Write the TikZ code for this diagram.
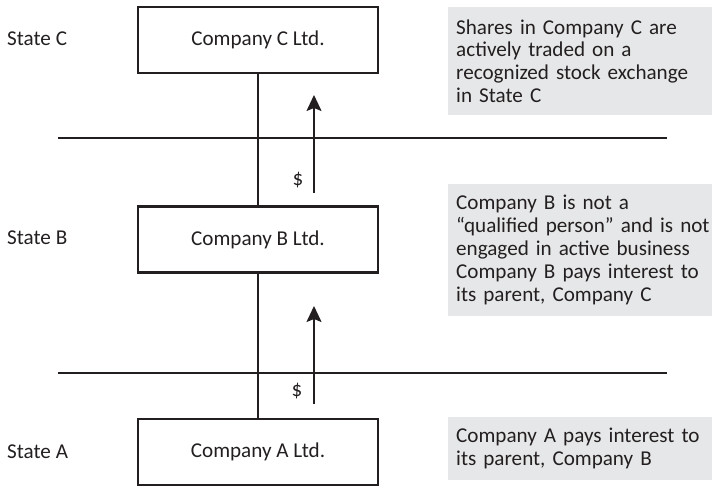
\documentclass[tikz,border=0pt]{standalone}
\usepackage{xcolor}
\usepackage{fontspec}
\setmainfont{Carlito}
\usetikzlibrary{shapes,arrows,positioning,calc,arrows.meta}
\definecolor{notegray}{RGB}{230,231,232}
\definecolor{inkgray}{RGB}{35,31,32}

\begin{document}
\begin{tikzpicture}[x=1bp,y=-1bp,
    every node/.style={text=inkgray, font=\fontsize{21.2}{23}\selectfont},
    company/.style={draw=inkgray, line width=2.5bp, minimum width=240bp, minimum height=66bp, inner sep=0pt},
    note/.style={fill=notegray, anchor=north west, text width=290bp, align=left, inner xsep=8bp, inner ysep=0pt},
    border/.style={draw=inkgray, line width=1.3bp},
    flow/.style={draw=inkgray, line width=1.8bp, -{Stealth[length=16bp, width=15bp, inset=3bp]}}]
    \useasboundingbox (0,0) rectangle (712,488);

    % states and companies
    \node[anchor=west, inner xsep=0pt] (stateC) at (7,39) {State C};
    \node[anchor=west, inner xsep=0pt] (stateB) at (7,238) {State B};
    \node[anchor=west, inner xsep=0pt] (stateA) at (7,452) {State A};

    \node[company] (compC) at (258,40) {Company C Ltd.};
    \node[company] (compB) at (258,239.5) {Company B Ltd.};
    \node[company] (compA) at (258,452) {Company A Ltd.};

    % notes
    \node[note, minimum height=108bp] (noteC) at (448,7) {Shares in Company C are\\ actively traded on a\\ recognized stock exchange\\ in State C};
    \node[note, minimum height=132bp] (noteB) at (448,184) {Company B is not a\\ ``qualified person'' and is not\\ engaged in active business\\ Company B pays interest to\\ its parent, Company C};
    \node[note, minimum height=63bp] (noteA) at (448,417) {Company A pays interest to\\ its parent, Company B};

    % borders between states
    \coordinate (borderCw) at (58,138);
    \coordinate (borderCe) at (667,138);
    \coordinate (borderBw) at (58,373);
    \coordinate (borderBe) at (667,373);
    \draw[border] (borderCw) -- (borderCe);
    \draw[border] (borderBw) -- (borderBe);

    % ownership
    \draw[border] (compC.south) -- (compB.north);
    \draw[border] (compB.south) -- (compA.north);

    % interest payments
    \coordinate (payBfrom) at (314,193);
    \coordinate (payBto) at (314,95);
    \coordinate (payAfrom) at (314,404);
    \coordinate (payAto) at (314,306);
    \draw[flow] (payBfrom) -- (payBto);
    \draw[flow] (payAfrom) -- (payAto);
    \node (cashB) at (298,180) {\$};
    \node (cashA) at (297,391) {\$};
\end{tikzpicture}
\end{document}
